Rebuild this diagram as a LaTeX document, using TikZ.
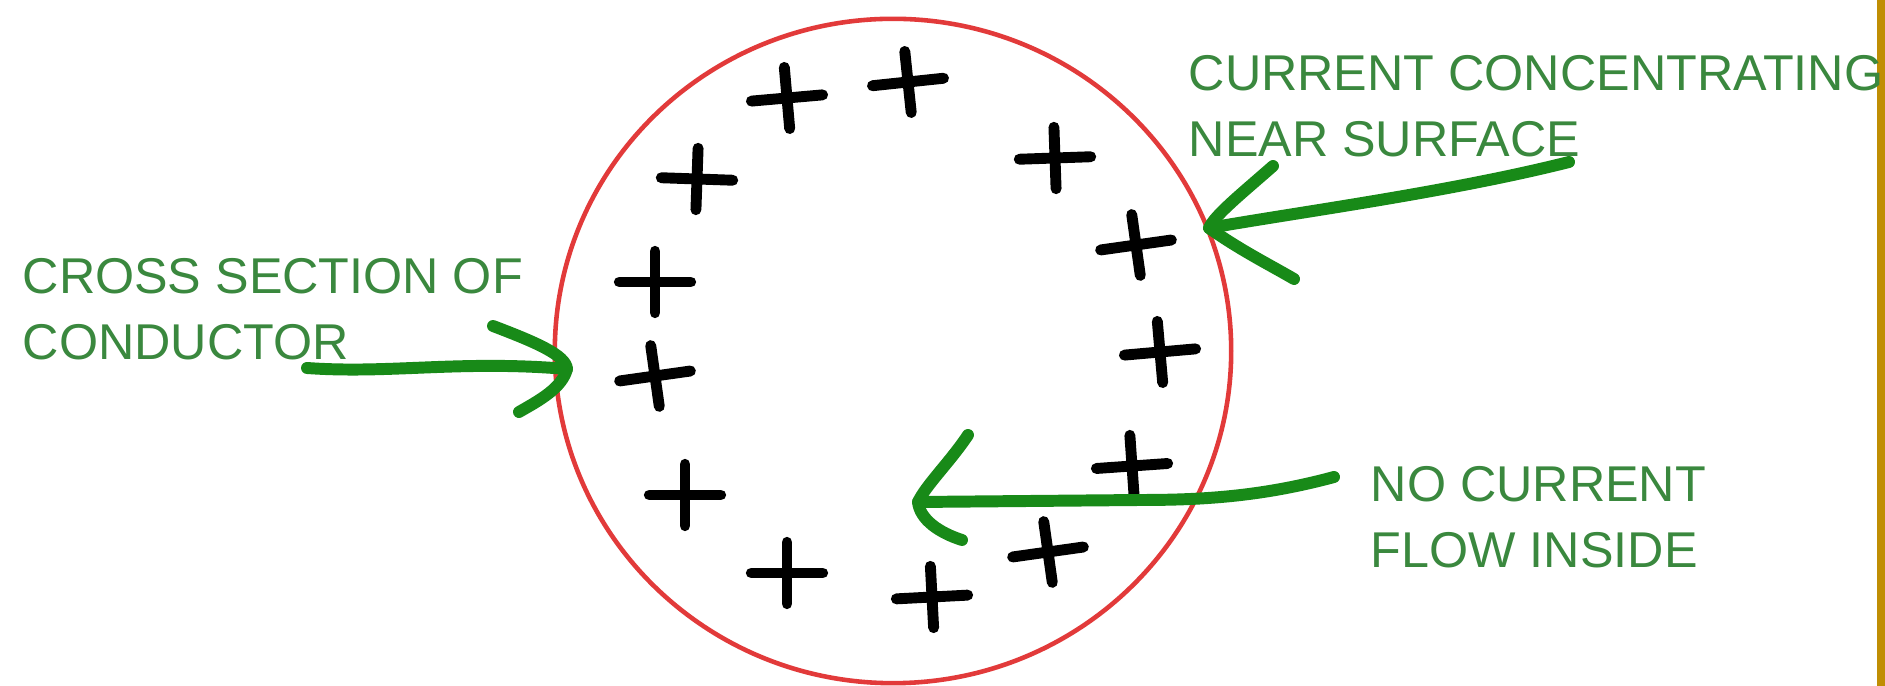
\documentclass[tikz,border=0pt]{standalone}
\usepackage{fontspec}
\setmainfont{Liberation Sans}
\usetikzlibrary{shapes.geometric}
\definecolor{Cred}{RGB}{226,58,58}
\definecolor{Ctext}{RGB}{58,136,62}
\definecolor{Cpen}{RGB}{24,138,24}
\definecolor{Cgold}{RGB}{192,142,4}

\begin{document}
\begin{tikzpicture}[x=0.01cm, y=-0.01cm,
      note/.style={text=Ctext, font=\fontsize{14.3}{18.8}\selectfont,
                   align=left, anchor=north west, inner sep=0pt},
      charge/.style={minimum width=0.7cm, minimum height=0.6cm, inner sep=0pt},
      stroke/.style={line width=3.1pt, line cap=round},
      pen/.style={draw=Cpen, line width=3.4pt, line cap=round, line join=round}]
    \fill[white] (0,0) rectangle (1885,686);
    \useasboundingbox (0,0) rectangle (1885,686);
    \fill[Cgold] (1877,0) rectangle (1885,686);
    % Conductor
    \node[ellipse, draw=Cred, line width=1.3pt, minimum width=6.76cm,
          minimum height=6.64cm] (cond) at (893,351) {};
    % Charges
    \node[charge, rotate=5]  (p1)  at (787,98)  {};
    \node[charge, rotate=6]  (p2)  at (908,82)  {};
    \node[charge, rotate=2]  (p3)  at (1055,158) {};
    \node[charge, rotate=-2] (p4)  at (697,179) {};
    \node[charge, rotate=8]  (p5)  at (1136,245) {};
    \node[charge]            (p6)  at (655,282) {};
    \node[charge, rotate=5]  (p7)  at (1160,352) {};
    \node[charge, rotate=8]  (p8)  at (655,376) {};
    \node[charge, rotate=4]  (p9)  at (1132,466) {};
    \node[charge]            (p10) at (685,495) {};
    \node[charge]            (p11) at (787,573) {};
    \node[charge, rotate=8]  (p12) at (1048,552) {};
    \node[charge, rotate=3]  (p13) at (932,597) {};
    \foreach \p in {p1,p2,p3,p4,p5,p6,p7,p8,p9,p10,p11,p12,p13}
      \draw[stroke] (\p.west) -- (\p.east) (\p.north) -- (\p.south);
    % Labels
    \node[note] (lblCross) at (22,258)   {CROSS SECTION OF\\CONDUCTOR};
    \node[note] (lblSurf)  at (1188,55)  {CURRENT CONCENTRATING\\NEAR SURFACE};
    \node[note] (lblNone)  at (1370,466) {NO CURRENT\\FLOW INSIDE};
    % Arrows
    \coordinate (a1s) at (307,368);
    \coordinate (a1t) at (567,369);
    \coordinate (a1u) at (493,326);
    \coordinate (a1l) at (519,412);
    \draw[pen] (a1s) .. controls (390,374) and (460,360) .. (a1t);
    \draw[pen] (a1u) .. controls (535,342) and (566,355) .. (a1t)
                     .. controls (562,388) and (540,400) .. (a1l);
    \coordinate (a2s) at (1569,162);
    \coordinate (a2t) at (1209,228);
    \coordinate (a2u) at (1273,166);
    \coordinate (a2l) at (1294,279);
    \draw[pen] (a2s) .. controls (1450,192) and (1300,212) .. (a2t);
    \draw[pen] (a2u) .. controls (1240,195) and (1215,215) .. (a2t)
                     .. controls (1240,250) and (1270,265) .. (a2l);
    \coordinate (a3s) at (1334,477);
    \coordinate (a3t) at (918,502);
    \coordinate (a3u) at (968,435);
    \coordinate (a3l) at (962,540);
    \draw[pen] (a3s) .. controls (1260,497) and (1200,500) .. (1140,500) -- (a3t);
    \draw[pen] (a3u) .. controls (950,462) and (926,485) .. (a3t)
                     .. controls (920,520) and (940,533) .. (a3l);
\end{tikzpicture}
\end{document}
